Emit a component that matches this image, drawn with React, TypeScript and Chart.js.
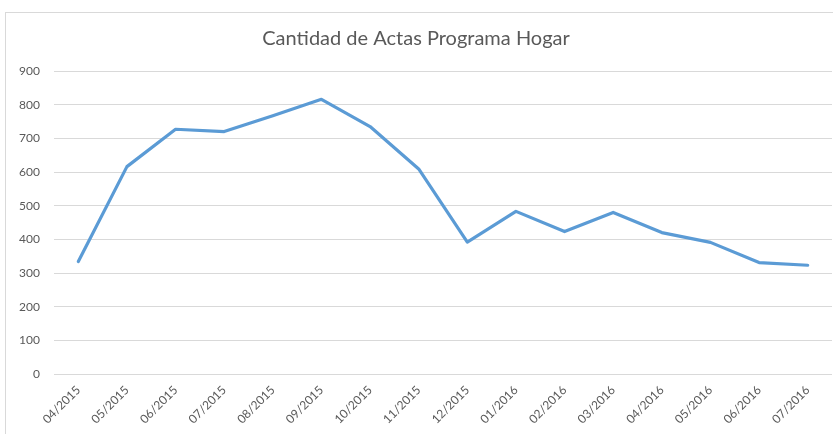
import React, { useEffect, useRef } from "react";
import { Chart, registerables } from "chart.js";

Chart.register(...registerables);

const title = "Cantidad de Actas Programa Hogar";
const categories = [
  "04/2015", "05/2015", "06/2015", "07/2015", "08/2015", "09/2015", "10/2015", "11/2015",
  "12/2015", "01/2016", "02/2016", "03/2016", "04/2016", "05/2016", "06/2016", "07/2016",
];
const actas = [334, 616, 727, 720, 767, 816, 735, 609, 392, 483, 423, 480, 420, 391, 331, 323];
const yMin = 0;
const yMax = 900;
const yStep = 100;

const FONT = "Lato, 'Open Sans', 'Liberation Sans', sans-serif";

const frame = {
  id: "frame",
  beforeDraw(chart: any) {
    const ctx = chart.ctx;
    ctx.save();
    ctx.fillStyle = "#ffffff";
    ctx.fillRect(0, 0, chart.width, chart.height);
    ctx.strokeStyle = "#d9d9d9";
    ctx.lineWidth = 1;
    ctx.strokeRect(5.5, 12.5, chart.width + 10, chart.height + 10);
    ctx.restore();
  },
};

export default function App() {
  const ref = useRef<HTMLCanvasElement>(null);
  useEffect(() => {
    document.body.style.margin = "0";
    const chart = new Chart(ref.current!, {
      type: "line",
      data: {
        labels: categories,
        datasets: [
          {
            label: "Actas",
            data: actas,
            borderColor: "#5b9bd5",
            borderWidth: 3.2,
            pointRadius: 0,
            tension: 0,
            borderJoinStyle: "round",
            borderCapStyle: "round",
            fill: false,
          },
        ],
      },
      options: {
        animation: false,
        responsive: false,
        maintainAspectRatio: false,
        layout: { padding: { left: 0, right: 1, top: 0, bottom: 0 } },
        plugins: {
          legend: { display: false },
          tooltip: { enabled: false },
          title: {
            display: true,
            text: title,
            color: "#595959",
            font: { family: FONT, size: 20, weight: "normal" },
            padding: { top: 27, bottom: 20 },
          },
        },
        scales: {
          x: {
            offset: true,
            grid: { display: false, drawTicks: false },
            border: { display: false },
            ticks: {
              color: "#595959",
              font: { family: FONT, size: 12 },
              minRotation: 45,
              maxRotation: 45,
              padding: 9,
              autoSkip: false,
            },
            afterFit(scale: any) {
              scale.height = 60;
            },
          },
          y: {
            min: yMin,
            max: yMax,
            grid: { color: "#d9d9d9", lineWidth: 1, drawTicks: false },
            border: { display: false },
            ticks: {
              stepSize: yStep,
              color: "#595959",
              font: { family: FONT, size: 12 },
              padding: 14,
            },
            afterFit(scale: any) {
              scale.width = 54;
            },
          },
        },
      },
      plugins: [frame],
    });
    return () => chart.destroy();
  }, []);
  return <canvas ref={ref} width={833} height={434} style={{ display: "block" }} />;
}
